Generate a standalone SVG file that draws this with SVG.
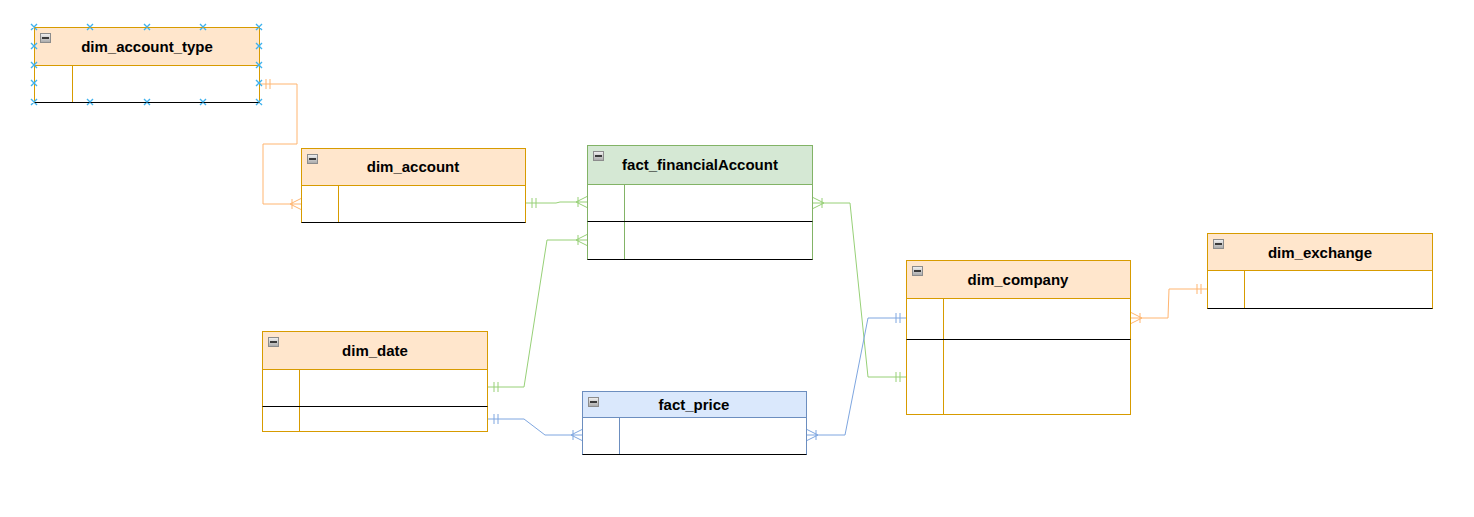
<svg xmlns="http://www.w3.org/2000/svg" width="1474" height="517" viewBox="0 0 1474 517">
<style>
.o rect.t,.o path.t{fill:#ffe6cc;stroke:#d79b00}
.g rect.t{fill:#d5e8d4;stroke:#82b366}
.b rect.t{fill:#dae8fc;stroke:#6c8ebf}
.o .l{stroke:#d79b00}
.g .l{stroke:#82b366}
.b .l{stroke:#6c8ebf}
.body{fill:#ffffff}
.bk{stroke:#000000;stroke-width:1}
.ttl{font-family:"Liberation Sans",Arial,sans-serif;font-size:15px;font-weight:bold;fill:#000000;text-anchor:middle}
.e{fill:none;stroke-width:1}
.eo{stroke:#ffb570}
.eg{stroke:#97d077}
.eb{stroke:#7ea6e0}
.h{stroke:#3fb2ee;stroke-width:1.4;fill:none}
</style>
<defs>
<linearGradient id="mg" x1="0" y1="0" x2="0" y2="1">
<stop offset="0" stop-color="#f2f2f2"/>
<stop offset="1" stop-color="#a8a8a8"/>
</linearGradient>
<g id="minus">
<rect x="0.5" y="0.5" width="10" height="9" fill="url(#mg)" stroke="#8c8c8c"/>
<rect x="2" y="4" width="7" height="2" fill="#3a3a3a"/>
</g>
<marker id="oneO" viewBox="-16 -8 16 16" refX="0" refY="0" markerWidth="16" markerHeight="16" markerUnits="userSpaceOnUse" orient="auto-start-reverse" overflow="visible"><path d="M-6 -5V5M-10 -5V5" fill="none" stroke="#ffb570"/></marker>
<marker id="manyO" viewBox="-16 -8 16 16" refX="0" refY="0" markerWidth="16" markerHeight="16" markerUnits="userSpaceOnUse" orient="auto-start-reverse" overflow="visible"><path d="M0 -5.5L-11 0L0 5.5M-9 -5V5" fill="none" stroke="#ffb570"/></marker>
<marker id="oneG" viewBox="-16 -8 16 16" refX="0" refY="0" markerWidth="16" markerHeight="16" markerUnits="userSpaceOnUse" orient="auto-start-reverse" overflow="visible"><path d="M-6 -5V5M-10 -5V5" fill="none" stroke="#97d077"/></marker>
<marker id="manyG" viewBox="-16 -8 16 16" refX="0" refY="0" markerWidth="16" markerHeight="16" markerUnits="userSpaceOnUse" orient="auto-start-reverse" overflow="visible"><path d="M0 -5.5L-11 0L0 5.5M-9 -5V5" fill="none" stroke="#97d077"/></marker>
<marker id="oneB" viewBox="-16 -8 16 16" refX="0" refY="0" markerWidth="16" markerHeight="16" markerUnits="userSpaceOnUse" orient="auto-start-reverse" overflow="visible"><path d="M-6 -5V5M-10 -5V5" fill="none" stroke="#7ea6e0"/></marker>
<marker id="manyB" viewBox="-16 -8 16 16" refX="0" refY="0" markerWidth="16" markerHeight="16" markerUnits="userSpaceOnUse" orient="auto-start-reverse" overflow="visible"><path d="M0 -5.5L-11 0L0 5.5M-9 -5V5" fill="none" stroke="#7ea6e0"/></marker>
</defs>
<rect width="1474" height="517" fill="#ffffff"/>

<g id="connectors">
<path class="e eo" d="M260 84H297V144H263V204H301" marker-start="url(#oneO)" marker-end="url(#manyO)"/>
<path class="e eg" d="M526 203H556L560 202H587" marker-start="url(#oneG)" marker-end="url(#manyG)"/>
<path class="e eg" d="M488 387H524L547 240H587" marker-start="url(#oneG)" marker-end="url(#manyG)"/>
<path class="e eg" d="M813 203H850L868 377H906" marker-start="url(#manyG)" marker-end="url(#oneG)"/>
<path class="e eb" d="M488 419H524L545 435H582" marker-start="url(#oneB)" marker-end="url(#manyB)"/>
<path class="e eb" d="M807 435H845L868 318H906" marker-start="url(#manyB)" marker-end="url(#oneB)"/>
<path class="e eo" d="M1131 318H1168L1169 289H1207" marker-start="url(#manyO)" marker-end="url(#oneO)"/>
</g>

<g id="dim_account_type" class="o">
<rect class="body" x="34.5" y="27.5" width="225" height="75"/>
<rect class="t" x="34.5" y="27.5" width="225" height="38"/>
<rect x="34.5" y="27.5" width="225" height="75" fill="none" class="l"/>
<path class="l" d="M72.5 65.5V102.5"/>
<path class="bk" d="M34.5 102.5H259.5"/>
<use href="#minus" x="40" y="33"/>
<text class="ttl" x="147" y="52">dim_account_type</text>
<g class="h">
<path d="M31 24l6 6m0-6l-6 6M87 24l6 6m0-6l-6 6M144 24l6 6m0-6l-6 6M200 24l6 6m0-6l-6 6M256 24l6 6m0-6l-6 6"/>
<path d="M31 99l6 6m0-6l-6 6M87 99l6 6m0-6l-6 6M144 99l6 6m0-6l-6 6M200 99l6 6m0-6l-6 6M256 99l6 6m0-6l-6 6"/>
<path d="M31 43l6 6m0-6l-6 6M31 62l6 6m0-6l-6 6M31 80l6 6m0-6l-6 6"/>
<path d="M256 43l6 6m0-6l-6 6M256 62l6 6m0-6l-6 6M256 80l6 6m0-6l-6 6"/>
</g>
</g>

<g id="dim_account" class="o">
<rect class="body" x="301.5" y="148.5" width="224" height="74"/>
<rect class="t" x="301.5" y="148.5" width="224" height="37"/>
<rect x="301.5" y="148.5" width="224" height="74" fill="none" class="l"/>
<path class="l" d="M338.5 185.5V222.5"/>
<path class="bk" d="M301.5 222.5H525.5"/>
<use href="#minus" x="307" y="154"/>
<text class="ttl" x="413" y="172">dim_account</text>
</g>

<g id="fact_financialAccount" class="g">
<rect class="body" x="587.5" y="145.5" width="225" height="114"/>
<rect class="t" x="587.5" y="145.5" width="225" height="39"/>
<rect x="587.5" y="145.5" width="225" height="114" fill="none" class="l"/>
<path class="l" d="M624.5 184.5V259.5"/>
<path class="bk" d="M587.5 221.5H812.5M587.5 259.5H812.5"/>
<use href="#minus" x="593" y="151"/>
<text class="ttl" x="700" y="170">fact_financialAccount</text>
</g>

<g id="dim_date" class="o">
<rect class="body" x="262.5" y="331.5" width="225" height="100"/>
<rect class="t" x="262.5" y="331.5" width="225" height="38"/>
<rect x="262.5" y="331.5" width="225" height="100" fill="none" class="l"/>
<path class="l" d="M299.5 369.5V431.5"/>
<path class="bk" d="M262.5 406.5H487.5"/>
<use href="#minus" x="268" y="337"/>
<text class="ttl" x="375" y="356">dim_date</text>
</g>

<g id="fact_price" class="b">
<rect class="body" x="582.5" y="391.5" width="224" height="63"/>
<rect class="t" x="582.5" y="391.5" width="224" height="26"/>
<rect x="582.5" y="391.5" width="224" height="63" fill="none" class="l"/>
<path class="l" d="M619.5 417.5V454.5"/>
<path class="bk" d="M582.5 454.5H806.5"/>
<use href="#minus" x="588" y="397"/>
<text class="ttl" x="694" y="410">fact_price</text>
</g>

<g id="dim_company" class="o">
<rect class="body" x="906.5" y="260.5" width="224" height="154"/>
<rect class="t" x="906.5" y="260.5" width="224" height="38"/>
<rect x="906.5" y="260.5" width="224" height="154" fill="none" class="l"/>
<path class="l" d="M943.5 298.5V414.5"/>
<path class="bk" d="M906.5 339.5H1130.5"/>
<use href="#minus" x="912" y="266"/>
<text class="ttl" x="1018" y="285">dim_company</text>
</g>

<g id="dim_exchange" class="o">
<rect class="body" x="1207.5" y="233.5" width="225" height="75"/>
<rect class="t" x="1207.5" y="233.5" width="225" height="37"/>
<rect x="1207.5" y="233.5" width="225" height="75" fill="none" class="l"/>
<path class="l" d="M1244.5 270.5V308.5"/>
<path class="bk" d="M1207.5 308.5H1432.5"/>
<use href="#minus" x="1213" y="239"/>
<text class="ttl" x="1320" y="258">dim_exchange</text>
</g>
</svg>
